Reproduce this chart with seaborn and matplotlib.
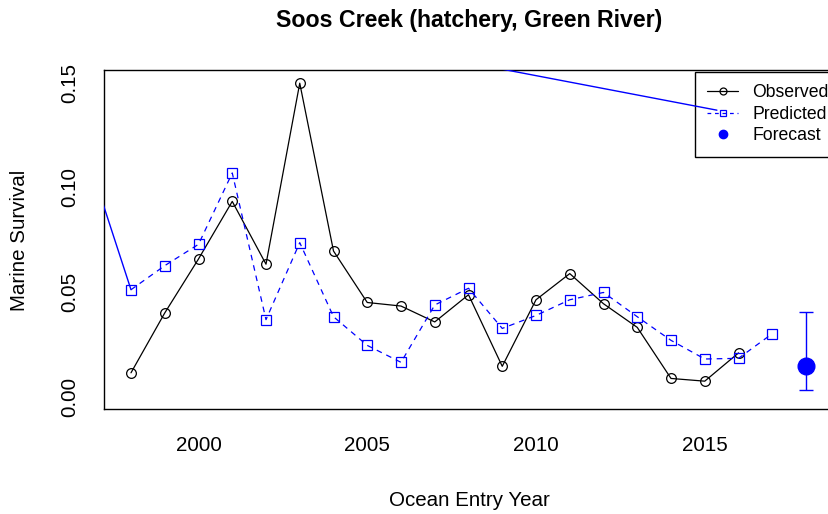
import matplotlib
matplotlib.use("Agg")
import matplotlib.pyplot as plt
from matplotlib.lines import Line2D
import seaborn as sns
import pandas as pd

# ---- data ----
obs_years = [1998, 1999, 2000, 2001, 2002, 2003, 2004, 2005, 2006, 2007,
             2008, 2009, 2010, 2011, 2012, 2013, 2014, 2015, 2016]
observed = [0.0113, 0.0399, 0.0657, 0.0932, 0.0632, 0.1497, 0.0695, 0.0449,
            0.0432, 0.0356, 0.0486, 0.0144, 0.0462, 0.0587, 0.0443, 0.0330,
            0.0086, 0.0073, 0.0208]
pred_years = [1998, 1999, 2000, 2001, 2002, 2003, 2004, 2005, 2006, 2007,
              2008, 2009, 2010, 2011, 2012, 2013, 2014, 2015, 2016, 2017]
predicted = [0.0510, 0.0625, 0.0727, 0.1068, 0.0367, 0.0735, 0.0381, 0.0244,
             0.0163, 0.0437, 0.0517, 0.0325, 0.0387, 0.0462, 0.0497, 0.0381,
             0.0268, 0.0179, 0.0182, 0.0300]
forecast_year = [2018]
forecast = [0.0144]
forecast_lo = [0.0030]
forecast_hi = [0.0405]
# stray solid blue segment visible in the reference
stray_x = [1998, 1995.0, 2015.36]
stray_y = [0.0510, 0.1995, 0.1368]

x_ticks = [2000, 2005, 2010, 2015]
y_ticks = [0.00, 0.05, 0.10, 0.15]
y_ticklabels = ["0.00", "0.05", "0.10", "0.15"]

title = "Soos Creek (hatchery, Green River)"
xlabel = "Ocean Entry Year"
ylabel = "Marine Survival"

obs_df = pd.DataFrame({"year": obs_years, "value": observed})
pred_df = pd.DataFrame({"year": pred_years, "value": predicted})

sns.set_style("white")
plt.rcParams["font.family"] = ["Liberation Sans", "DejaVu Sans"]
plt.rcParams["text.color"] = "black"
plt.rcParams["axes.labelcolor"] = "black"

fig = plt.figure(figsize=(8.29, 5.14), dpi=100)
ax = fig.add_axes([104 / 829, 105 / 514, 729 / 829, 339 / 514])

ax.plot(stray_x, stray_y, color="blue", lw=1.0, zorder=6)

sns.lineplot(data=obs_df, x="year", y="value", ax=ax, color="black", lw=0.9,
             marker="o", markersize=7, markerfacecolor="none",
             markeredgecolor="black", markeredgewidth=0.9, zorder=3)
sns.lineplot(data=pred_df, x="year", y="value", ax=ax, color="blue", lw=0.9,
             linestyle="--", marker="s", markersize=7, markerfacecolor="none",
             markeredgecolor="blue", markeredgewidth=0.9, zorder=3)
ax.lines[-1].set_dashes([4.5, 4])

yerr = [[f - l for f, l in zip(forecast, forecast_lo)],
        [h - f for f, h in zip(forecast, forecast_hi)]]
ax.errorbar(forecast_year, forecast, yerr=yerr, fmt="o", color="blue",
            ms=12, capsize=4.7, elinewidth=1.0, capthick=1.0, zorder=4)

ax.set_xlim(1997.2, 2018.8)
ax.set_ylim(-0.006, 0.156)
ax.set_xticks(x_ticks)
ax.set_xticklabels([str(t) for t in x_ticks])
ax.set_yticks(y_ticks)
ax.set_yticklabels(y_ticklabels, rotation=90, va="center")

for s in ax.spines.values():
    s.set_color("black")
    s.set_linewidth(1.0)
ax.tick_params(axis="both", direction="out", length=8.5, width=0.9,
               color="black", labelsize=14.8, labelcolor="black")
ax.tick_params(axis="x", pad=11)
ax.tick_params(axis="y", pad=9)

ax.set_xlabel("")
ax.set_ylabel("")
fig.text(469 / 829, 1 - 500 / 514, xlabel, ha="center", va="center",
         fontsize=14.8, color="black")
fig.text(20 / 829, 1 - 240 / 514, ylabel, ha="center", va="center",
         rotation=90, fontsize=14.8, color="black")
fig.text(469 / 829, 1 - 21 / 514, title, ha="center", va="center",
         fontsize=16.7, fontweight="bold", color="black")

handles = [
    Line2D([], [], color="black", lw=0.9, marker="o", ms=5,
           mfc="none", mec="black", mew=0.9),
    Line2D([], [], color="blue", lw=0.9, linestyle=(0, (3, 3)), marker="s", ms=5,
           mfc="none", mec="blue", mew=0.9),
    Line2D([], [], color="blue", lw=0, marker="o", ms=6),
]
leg = ax.legend(handles, ["Observed", "Predicted", "Forecast"],
                loc="upper right", bbox_to_anchor=(1.0 + 8 / 729, 1.0 - 2 / 339),
                borderaxespad=0,
                fontsize=12.7, frameon=True, fancybox=False, framealpha=1,
                edgecolor="black", handlelength=1.75, handletextpad=0.8,
                borderpad=0.7, labelspacing=0.25)
leg.get_frame().set_linewidth(1.0)
leg.set_zorder(5)
for t in leg.get_texts():
    t.set_color("black")

fig.savefig("out.png", dpi=100)
